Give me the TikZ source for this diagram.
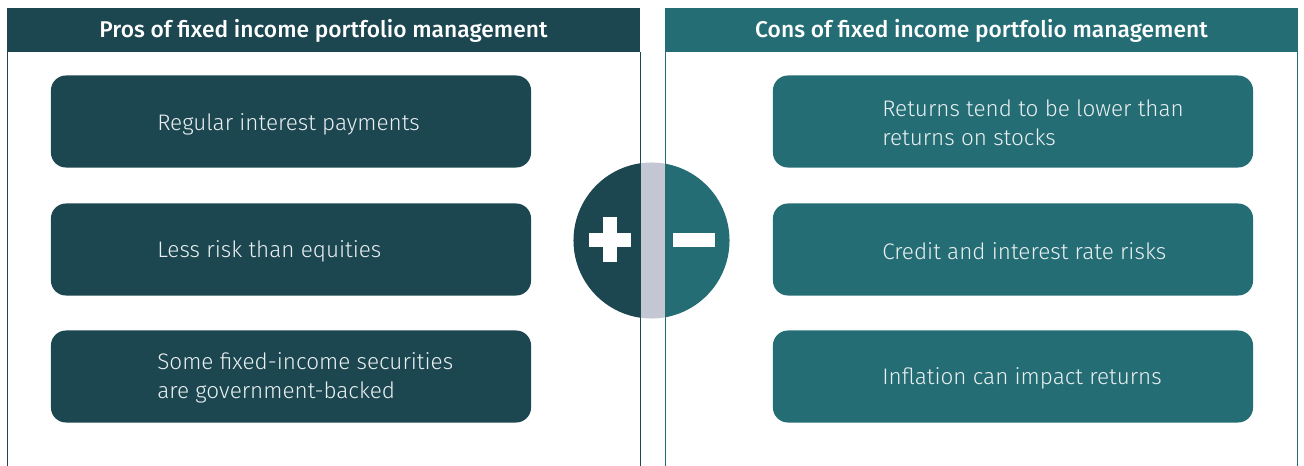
\documentclass[tikz,border=0pt]{standalone}
\usepackage{fontspec}
\setmainfont{Fira Sans}
\newfontfamily\lightfont{Fira Sans}[UprightFont=* Light]
\newfontfamily\medfont{Fira Sans}[UprightFont=* Medium]
\definecolor{prodark}{HTML}{1C4650}
\definecolor{conteal}{HTML}{256D75}
\definecolor{stripe}{HTML}{C3C7D3}
\definecolor{boxtext}{HTML}{EAF0F1}
\begin{document}
\begin{tikzpicture}[x=0.025cm, y=-0.025cm,
    box/.style={rounded corners=0.375cm, minimum width=12cm, minimum height=2.3cm, inner sep=0pt},
    txt/.style={anchor=west, align=left, text=boxtext, font=\lightfont\fontsize{16}{20.6}\selectfont, inner sep=0pt},
    head/.style={text=white, font=\medfont\fontsize{16.2}{19}\selectfont, inner sep=0pt}]
    \useasboundingbox (0,0) rectangle (1304,466);

    % headers
    \fill[prodark] (7,8) rectangle (640,52);
    \fill[conteal] (665,8) rectangle (1298,52);
    \node[head] (prohead) at (323.5,31) {Pros of fixed income portfolio management};
    \node[head] (conhead) at (981.5,31) {Cons of fixed income portfolio management};

    % pros
    \node[box, fill=prodark] (pro1) at (291,121.5) {};
    \node[box, fill=prodark] (pro2) at (291,249.5) {};
    \node[box, fill=prodark] (pro3) at (291,376.5) {};
    \node[txt] (pro1t) at (157,124) {Regular interest payments};
    \node[txt] (pro2t) at (157,251) {Less risk than equities};
    \node[txt] (pro3t) at (157,378) {Some fixed-income securities\\are government-backed};

    % cons
    \node[box, fill=conteal] (con1) at (1013,121.5) {};
    \node[box, fill=conteal] (con2) at (1013,249.5) {};
    \node[box, fill=conteal] (con3) at (1013,376.5) {};
    \node[txt] (con1t) at (882,123) {Returns tend to be lower than\\returns on stocks};
    \node[txt] (con2t) at (882,251) {Credit and interest rate risks};
    \node[txt] (con3t) at (882,378) {Inflation can impact returns};

    % plus / minus sign
    \begin{scope}
        \clip (651.5,240.5) circle (1.95cm);
        \fill[prodark] (570,160) rectangle (641,322);
        \fill[stripe] (641,160) rectangle (665,322);
        \fill[conteal] (665,160) rectangle (734,322);
    \end{scope}
    \fill[white] (588.5,232.5) rectangle (631,247);
    \fill[white] (602.5,217) rectangle (616.5,262);
    \fill[white] (673,232.5) rectangle (715,247);

    % panel borders
    \draw[prodark, line width=0.6pt] (7,52) -- (7,466) (640,52) -- (640,466);
    \draw[conteal, line width=0.6pt] (665,52) -- (665,466) (1297.5,52) -- (1297.5,466);

\end{tikzpicture}
\end{document}
